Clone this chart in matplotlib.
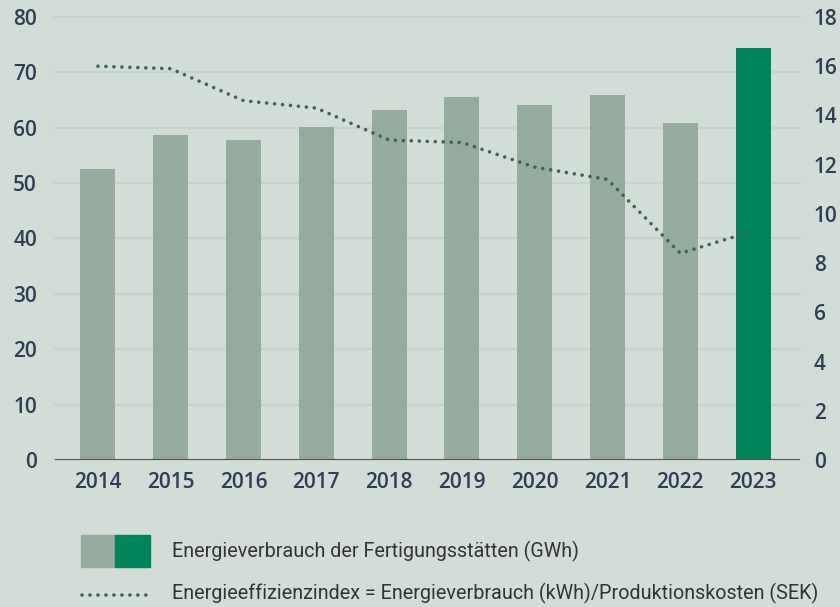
import matplotlib
matplotlib.use("Agg")
import matplotlib.pyplot as plt
from matplotlib.patches import Rectangle
from matplotlib.lines import Line2D

years = ["2014", "2015", "2016", "2017", "2018", "2019", "2020", "2021", "2022", "2023"]
energy_gwh = [52.5, 58.7, 57.8, 60.1, 63.2, 65.5, 64.1, 65.9, 60.8, 74.4]
efficiency_index = [16.0, 15.9, 14.6, 14.3, 13.0, 12.9, 11.9, 11.4, 8.4, 9.3]
left_ticks = [0, 10, 20, 30, 40, 50, 60, 70, 80]
right_ticks = [0, 2, 4, 6, 8, 10, 12, 14, 16, 18]

BG = "#d3ddd8"
BAR = "#94ab9d"
HIGHLIGHT = "#00835a"
LINE = "#3b6450"
TICK = "#2e3e54"
GRID = "#c8d2cc"
TICK_FONT = dict(family="Open Sans", weight="semibold")

fig = plt.figure(figsize=(8.4, 6.07), dpi=100, facecolor=BG)
ax = fig.add_axes([0.0655, 0.2422, 0.8869, 0.7298], facecolor=BG)

x = list(range(len(years)))
colors = [BAR] * (len(years) - 1) + [HIGHLIGHT]
ax.bar(x, energy_gwh, width=0.48, color=colors, zorder=2)
ax.set_xlim(-0.59, len(years) - 1 + 0.645)
ax.set_ylim(0, 80)
ax.set_yticks(left_ticks)
ax.set_xticks(x, years)
ax.grid(axis="y", color=GRID, linewidth=1.5, zorder=0, clip_on=False)
for s in ax.spines.values():
    s.set_visible(False)
ax.axhline(0, color="#555555", linewidth=1.5, zorder=3)
ax.tick_params(length=0, colors=TICK, labelsize=15)
ax.tick_params(axis="y", pad=13)
ax.tick_params(axis="x", pad=9)
for lab in ax.get_xticklabels() + ax.get_yticklabels():
    lab.set(**TICK_FONT)

ax2 = ax.twinx()
ax2.plot(x, efficiency_index, color=LINE, linewidth=2.6,
         linestyle=(0, (0.01, 2.2)), dash_capstyle="round", zorder=4)
ax2.set_ylim(0, 18)
ax2.set_yticks(right_ticks)
for s in ax2.spines.values():
    s.set_visible(False)
ax2.tick_params(length=0, colors=TICK, labelsize=15, pad=10)
for lab in ax2.get_yticklabels():
    lab.set(**TICK_FONT)

# legend drawn by hand below the plot
fig.patches.append(Rectangle((81 / 840, 1 - 567 / 607), 34 / 840, 32 / 607,
                             transform=fig.transFigure, color=BAR))
fig.patches.append(Rectangle((115 / 840, 1 - 567 / 607), 35 / 840, 32 / 607,
                             transform=fig.transFigure, color=HIGHLIGHT))
fig.lines.append(Line2D([82 / 840, 149 / 840], [1 - 595 / 607, 1 - 595 / 607],
                        transform=fig.transFigure, color=LINE, linewidth=2.6,
                        linestyle=(0, (0.01, 2.2)), dash_capstyle="round"))
legend_font = dict(family="Roboto", fontsize=14.2, color="#333333",
                   va="center", ha="left")
fig.text(172 / 840, 1 - 551 / 607, "Energieverbrauch der Fertigungsstätten (GWh)", **legend_font)
fig.text(172 / 840, 1 - 593 / 607,
         "Energieeffizienzindex = Energieverbrauch (kWh)/Produktionskosten (SEK)", **legend_font)

fig.savefig("out.png", dpi=100, facecolor=BG)
